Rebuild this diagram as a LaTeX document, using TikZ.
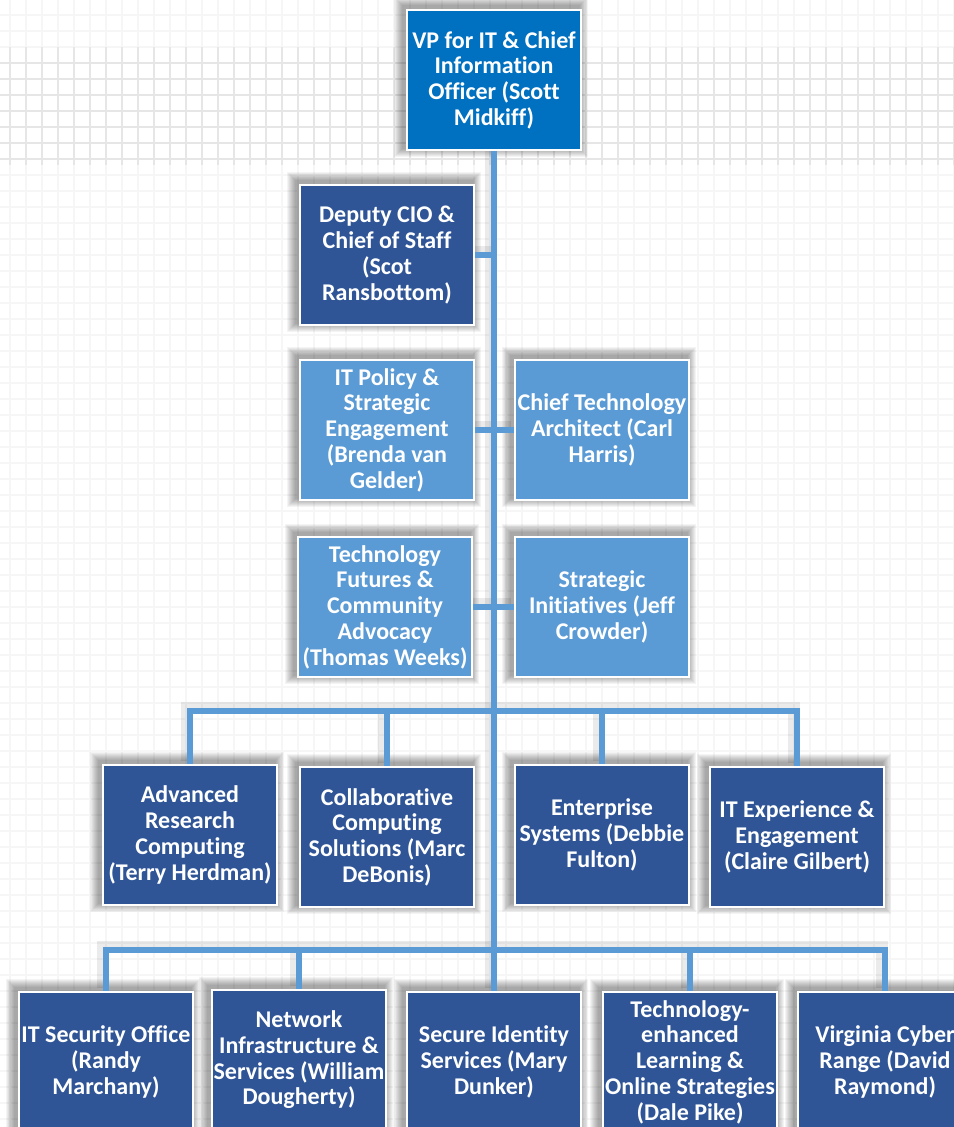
\documentclass[tikz,border=0pt]{standalone}
\usepackage{fontspec}
\setmainfont{Carlito}[RawFeature={-liga;-clig;-calt;-dlig}]
\usetikzlibrary{calc}
\pgfdeclarelayer{grid}
\pgfdeclarelayer{conn}
\pgfsetlayers{grid,conn,main}
\definecolor{vpblue}{HTML}{0070C0}
\definecolor{darkbox}{HTML}{2F5597}
\definecolor{lightbox}{HTML}{5B9BD5}
\definecolor{gridA}{HTML}{F6F6F6}
\definecolor{gridB}{HTML}{E6E6E6}
\tikzset{
  box/.style={draw=white, line width=2pt, minimum width=174pt, minimum height=140pt,
    inner sep=0pt, align=center, text=white,
    font=\fontsize{24}{25.7}\selectfont\bfseries},
  topbox/.style={box, fill=vpblue},
  darkb/.style={box, fill=darkbox},
  lightb/.style={box, fill=lightbox},
  conn/.style={draw=lightbox, line width=6pt},
  connshadow/.style={draw=black, line width=12pt, opacity=0.08},
}
\begin{document}
\begin{tikzpicture}[x=1pt,y=-1pt]
\useasboundingbox (0,0) rectangle (953,1127);
\begin{pgfonlayer}{grid}
  \fill[white] (0,0) rectangle (953,1127);
  \foreach \x in {10,26,...,954} {\draw[gridA, line width=1.3pt] (\x,0) -- (\x,1127);}
  \foreach \y in {15,31,...,1127} {\draw[gridA, line width=1.3pt] (0,\y) -- (953,\y);}
  \foreach \x in {10,26,...,954} {\draw[gridB, line width=1.3pt] (\x,47) -- (\x,165);}
  \foreach \y in {63,79,...,160} {\draw[gridB, line width=1.3pt] (0,\y) -- (953,\y);}
\end{pgfonlayer}

\node[topbox] (vp) at (494,80) {VP for IT \& Chief\\Information\\Officer (Scott\\Midkiff)};
\node[darkb] (dep) at (387,255) {Deputy CIO \&\\Chief of Staff\\(Scot\\Ransbottom)};
\node[lightb] (pol) at (387,430) {IT Policy \&\\Strategic\\Engagement\\(Brenda van\\Gelder)};
\node[lightb] (cta) at (602,430) {Chief Technology\\Architect (Carl\\Harris)};
\node[lightb] (fut) at (385,607) {Technology\\Futures \&\\Community\\Advocacy\\(Thomas Weeks)};
\node[lightb] (si) at (602,607) {Strategic\\Initiatives (Jeff\\Crowder)};
\node[darkb] (arc) at (190,835) {Advanced\\Research\\Computing\\(Terry Herdman)};
\node[darkb] (csc) at (387,837) {Collaborative\\Computing\\Solutions (Marc\\DeBonis)};
\node[darkb] (ent) at (602,835) {Enterprise\\Systems (Debbie\\Fulton)};
\node[darkb] (itx) at (797,837) {IT Experience \&\\Engagement\\(Claire Gilbert)};
\node[darkb] (itso) at (106,1062) {IT Security Office\\(Randy\\Marchany)};
\node[darkb] (nis) at (299,1060) {Network\\Infrastructure \&\\Services (William\\Dougherty)};
\node[darkb] (sid) at (494,1062) {Secure Identity\\Services (Mary\\Dunker)};
\node[darkb] (tel) at (690,1062) {Technology-\\enhanced\\Learning \&\\Online Strategies\\(Dale Pike)};
\node[darkb] (vcr) at (885,1062) {Virginia Cyber\\Range (David\\Raymond)};

\coordinate (bus3) at (494,711);
\coordinate (bus4) at (494,950);
\begin{pgfonlayer}{conn}
  % soft shadows of the boxes
  \foreach \n in {vp,dep,pol,cta,fut,si,arc,csc,ent,itx,itso,nis,sid,tel,vcr} {
    \foreach \k in {1,...,9} {
      \fill[black, opacity=0.045] ($(\n.north west)+(-3-\k,-3-\k)$) rectangle ($(\n.south east)+(-3+\k,-3+\k)$);
    }
  }
  % soft shadows of the connectors
  \begin{scope}[transform canvas={shift={(-3pt,3pt)}}]
    \draw[connshadow] (vp.south) -- (sid.north);
    \draw[connshadow] (dep.east) -- (dep.east -| vp.south);
    \draw[connshadow] (pol.east) -- (cta.west);
    \draw[connshadow] (fut.east) -- (si.west);
    \draw[connshadow] (arc.north) |- (bus3) -| (itx.north);
    \draw[connshadow] (csc.north) -- (csc.north |- bus3);
    \draw[connshadow] (ent.north) -- (ent.north |- bus3);
    \draw[connshadow] (itso.north) |- (bus4) -| (vcr.north);
    \draw[connshadow] (nis.north) -- (nis.north |- bus4);
    \draw[connshadow] (tel.north) -- (tel.north |- bus4);
  \end{scope}
  \draw[conn] (vp.south) -- (sid.north);
  \draw[conn] (dep.east) -- (dep.east -| vp.south);
  \draw[conn] (pol.east) -- (cta.west);
  \draw[conn] (fut.east) -- (si.west);
  \draw[conn] (arc.north) |- (bus3) -| (itx.north);
  \draw[conn] (csc.north) -- (csc.north |- bus3);
  \draw[conn] (ent.north) -- (ent.north |- bus3);
  \draw[conn] (itso.north) |- (bus4) -| (vcr.north);
  \draw[conn] (nis.north) -- (nis.north |- bus4);
  \draw[conn] (tel.north) -- (tel.north |- bus4);
\end{pgfonlayer}
\end{tikzpicture}
\end{document}
